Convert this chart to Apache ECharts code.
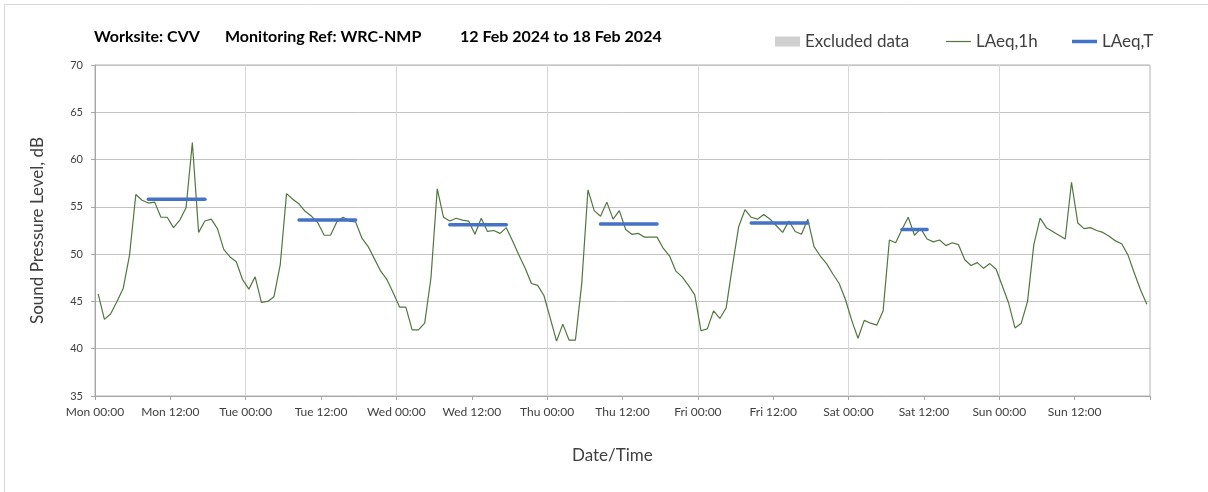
<!DOCTYPE html>
<html>
<head>
<meta charset="utf-8">
<style>
  html, body { margin: 0; padding: 0; background: #fff; }
  #chart { width: 1208px; height: 492px; }
</style>
<script src="https://cdn.jsdelivr.net/npm/echarts@6/dist/echarts.min.js"></script>
</head>
<body>
<div id="chart"></div>
<script>
// hourly LAeq,1h values, one array per day (00:00-01:00 ... 23:00-24:00)
const monLevels = [45.8, 43.1, 43.7, 45.0, 46.4, 49.9, 56.3, 55.7, 55.4, 55.5, 53.9, 53.9, 52.8, 53.6, 54.9, 61.8, 52.3, 53.5, 53.7, 52.7, 50.5, 49.7, 49.2, 47.3]
const tueLevels = [46.3, 47.6, 44.9, 45.0, 45.5, 48.9, 56.4, 55.8, 55.3, 54.5, 54.0, 53.3, 52.0, 52.0, 53.4, 53.9, 53.5, 53.4, 51.7, 50.8, 49.5, 48.2, 47.3, 45.9]
const wedLevels = [44.4, 44.4, 42.0, 42.0, 42.7, 47.5, 56.9, 53.9, 53.5, 53.8, 53.6, 53.5, 52.1, 53.8, 52.4, 52.5, 52.2, 52.8, 51.4, 49.9, 48.5, 46.9, 46.7, 45.6]
const thuLevels = [43.2, 40.8, 42.6, 40.9, 40.9, 46.8, 56.8, 54.6, 54.0, 55.5, 53.7, 54.6, 52.6, 52.1, 52.2, 51.8, 51.8, 51.8, 50.6, 49.8, 48.2, 47.6, 46.7, 45.7]
const friLevels = [41.9, 42.1, 44.0, 43.2, 44.3, 48.7, 52.9, 54.7, 53.9, 53.7, 54.2, 53.7, 53.0, 52.3, 53.5, 52.4, 52.1, 53.7, 50.8, 49.8, 49.0, 47.9, 46.9, 45.2]
const satLevels = [43.0, 41.1, 43.0, 42.7, 42.5, 44.0, 51.5, 51.2, 52.6, 53.9, 52.0, 52.7, 51.6, 51.3, 51.5, 50.9, 51.2, 51.0, 49.4, 48.8, 49.1, 48.5, 49.0, 48.4]
const sunLevels = [46.6, 44.8, 42.2, 42.7, 45.0, 51.0, 53.8, 52.8, 52.4, 52.0, 51.6, 57.6, 53.3, 52.7, 52.8, 52.5, 52.3, 51.9, 51.4, 51.1, 49.9, 48.0, 46.2, 44.7]

// LAeq,T periods (day index, start/end hour, level)
const periodDay = [0, 1, 2, 3, 4, 5]
const periodStart = [8.5, 8.5, 8.5, 8.5, 8.5, 8.5]
const periodEnd = [17.5, 17.5, 17.5, 17.5, 17.5, 12.5]
const periodLevel = [55.8, 53.6, 53.1, 53.2, 53.3, 52.6]

// no excluded periods this week
const excludedPeriods = []

const xTickLabels = [
  'Mon 00:00', 'Mon 12:00', 'Tue 00:00', 'Tue 12:00', 'Wed 00:00', 'Wed 12:00',
  'Thu 00:00', 'Thu 12:00', 'Fri 00:00', 'Fri 12:00', 'Sat 00:00', 'Sat 12:00',
  'Sun 00:00', 'Sun 12:00',
]

const titleParts = ['Worksite: CVV', 'Monitoring Ref: WRC-NMP', '12 Feb 2024 to 18 Feb 2024']

const font = 'Lato, "Open Sans", sans-serif'
const textColor = '#404040'
const green = '#52763f'
const blue = '#4472c4'

const hourly = [monLevels, tueLevels, wedLevels, thuLevels, friLevels, satLevels, sunLevels]
  .flat()
  .map((v, i) => [i + 0.5, v])

const periodSeries = periodDay.map((d, i) => ({
  name: 'LAeq,T',
  type: 'line',
  data: [
    [d * 24 + periodStart[i], periodLevel[i]],
    [d * 24 + periodEnd[i], periodLevel[i]],
  ],
  symbol: 'none',
  lineStyle: { color: blue, width: 3.5, cap: 'round' },
  itemStyle: { color: blue },
  z: 3,
}))

// one legend block per item so each icon gets its own size
function legendItem(name, left, h) {
  return {
    left: left,
    top: 28,
    itemWidth: 25,
    itemHeight: h,
    icon: 'rect',
    textStyle: { fontSize: 17, color: textColor, fontFamily: font },
    data: [name],
  }
}

const chart = echarts.init(document.getElementById('chart'))

const option = {
  animation: false,
  textStyle: { fontFamily: font },
  graphic: [
    {
      type: 'rect',
      shape: { x: 4.5, y: 4.5, width: 1220, height: 500 },
      style: { fill: 'none', stroke: '#d9d9d9', lineWidth: 1 },
      silent: true,
    },
    { type: 'text', left: 94, top: 29, style: { text: titleParts[0], font: 'bold 16px ' + font, fill: '#000' } },
    { type: 'text', left: 225, top: 29, style: { text: titleParts[1], font: 'bold 16px ' + font, fill: '#000' } },
    { type: 'text', left: 460, top: 29, style: { text: titleParts[2], font: 'bold 16px ' + font, fill: '#000' } },
    { type: 'text', left: 572, top: 447, style: { text: 'Date/Time', font: '17px ' + font, fill: textColor } },
  ],
  legend: [
    legendItem('Excluded data', 770, 10),
    legendItem('LAeq,1h', 941, 1.2),
    legendItem('LAeq,T', 1067, 3.5),
  ],
  grid: { left: 95, right: 58, top: 65, bottom: 96, show: true, borderColor: '#b0b0b0', borderWidth: 1 },
  xAxis: [
    {
      type: 'value',
      min: 0,
      max: 168,
      interval: 12,
      axisLine: { lineStyle: { color: '#a6a6a6' } },
      axisTick: { show: true, length: 4, lineStyle: { color: '#a6a6a6' } },
      axisLabel: {
        fontSize: 12,
        color: textColor,
        margin: 10,
        formatter: (v) => xTickLabels[v / 12] || '',
      },
      splitLine: { show: false },
    },
    {
      type: 'value',
      min: 0,
      max: 168,
      interval: 24,
      position: 'bottom',
      axisLine: { show: false },
      axisTick: { show: false },
      axisLabel: { show: false },
      splitLine: { show: true, lineStyle: { color: '#d9d9d9' } },
    },
  ],
  yAxis: {
    type: 'value',
    min: 35,
    max: 70,
    interval: 5,
    name: 'Sound Pressure Level, dB',
    nameLocation: 'middle',
    nameGap: 49,
    nameTextStyle: { fontSize: 17, color: textColor, fontFamily: font },
    axisLine: { show: true, lineStyle: { color: '#a6a6a6' } },
    axisTick: { show: true, length: 4, lineStyle: { color: '#a6a6a6' } },
    axisLabel: { fontSize: 11, color: textColor, margin: 12 },
    splitLine: { lineStyle: { color: '#c4c4c4' } },
  },
  series: [
    {
      name: 'Excluded data',
      type: 'bar',
      data: excludedPeriods,
      itemStyle: { color: '#d0d0d0' },
    },
    {
      name: 'LAeq,1h',
      type: 'line',
      data: hourly,
      symbol: 'none',
      lineStyle: { color: green, width: 1.2 },
      itemStyle: { color: green },
      z: 2,
    },
    ...periodSeries,
  ],
}

chart.setOption(option)
</script>
</body>
</html>
